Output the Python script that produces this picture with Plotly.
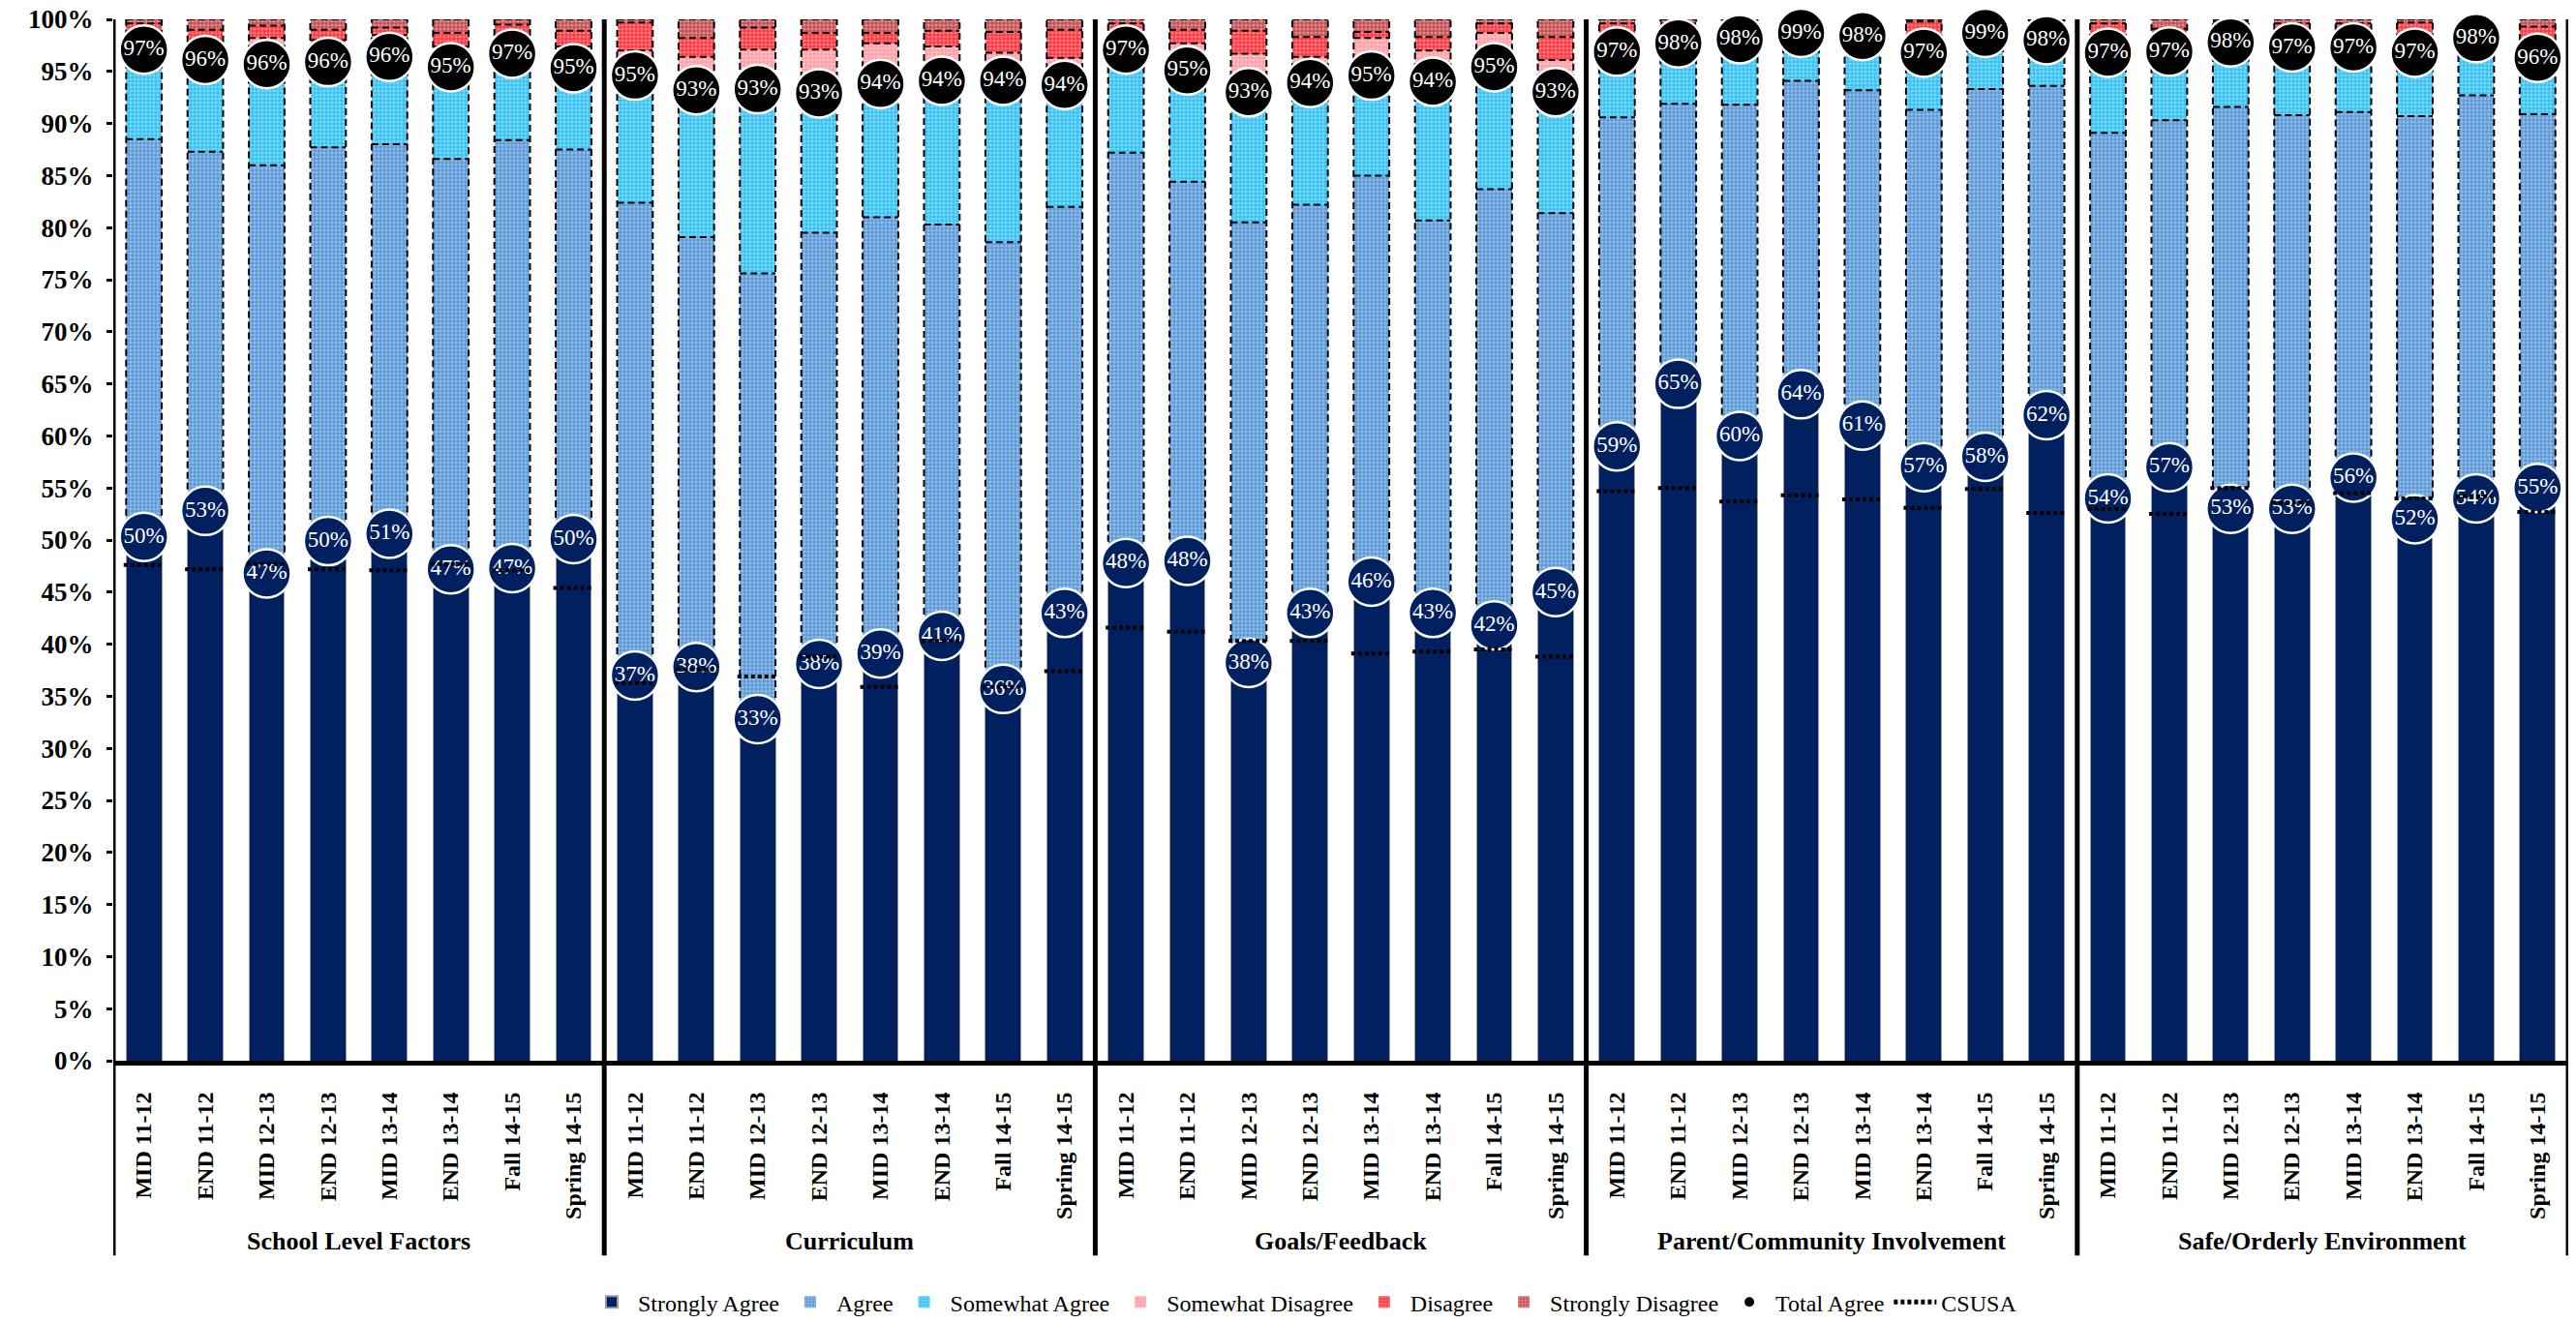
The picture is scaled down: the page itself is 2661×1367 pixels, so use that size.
import plotly.graph_objects as go

# Survey periods and survey domains
periods = ["MID 11-12", "END 11-12", "MID 12-13", "END 12-13",
           "MID 13-14", "END 13-14", "Fall 14-15", "Spring 14-15"]
domains = ["School Level Factors", "Curriculum", "Goals/Feedback",
           "Parent/Community Involvement", "Safe/Orderly Environment"]

# Response shares (%) per bar, domain by domain, period by period
strongly_agree = [50.3, 52.8, 46.8, 49.9, 50.6, 47.2, 47.3, 50.1,
                  37.0, 37.8, 32.8, 38.1, 39.1, 40.8, 35.7, 43.0,
                  47.8, 48.0, 38.2, 43.0, 46.0, 43.0, 41.8, 45.0,
                  59.0, 65.0, 60.0, 64.0, 61.0, 57.0, 58.0, 62.0,
                  54.0, 57.0, 53.0, 53.0, 56.0, 52.0, 54.0, 55.0]
agree = [38.2, 34.5, 39.2, 37.8, 37.4, 39.4, 41.1, 37.4,
         45.4, 41.3, 42.8, 41.4, 41.9, 39.5, 42.9, 39.0,
         39.4, 36.4, 42.3, 39.2, 39.0, 37.7, 41.9, 36.4,
         31.6, 26.9, 31.8, 30.1, 32.2, 34.3, 35.3, 31.6,
         35.1, 33.3, 38.6, 37.8, 35.1, 38.7, 38.7, 35.9]
somewhat_agree = [8.6, 8.8, 9.7, 8.2, 8.4, 8.8, 8.3, 7.8,
                  12.2, 14.1, 17.7, 13.4, 12.8, 13.8, 15.5, 11.7,
                  9.9, 10.7, 12.5, 11.7, 9.6, 13.3, 11.7, 11.6,
                  6.3, 5.8, 6.3, 4.6, 5.2, 5.5, 5.4, 4.4,
                  7.7, 6.6, 6.2, 6.5, 6.2, 6.1, 5.5, 5.4]
somewhat_disagree = [0.7, 1.1, 2.5, 2.1, 2.1, 2.0, 0.8, 2.1,
                     2.4, 3.2, 3.8, 4.2, 3.9, 3.3, 2.7, 2.6,
                     0.7, 2.6, 3.7, 2.5, 3.6, 3.0, 3.3, 3.1,
                     0.6, 0.5, 0.6, 0.5, 0.6, 0.6, 0.6, 0.6,
                     0.7, 0.5, 0.8, 0.7, 0.9, 0.8, 0.7, 0.9]
disagree = [1.8, 1.8, 1.2, 1.0, 0.7, 1.3, 2.0, 1.5,
            2.7, 1.8, 2.1, 1.6, 1.0, 1.5, 2.0, 2.7,
            1.8, 1.3, 2.2, 1.9, 0.6, 1.3, 0.9, 2.2,
            2.1, 1.4, 1.1, 0.7, 0.9, 2.4, 0.6, 1.2,
            2.1, 1.7, 1.2, 1.6, 1.4, 2.1, 0.9, 2.1]
strongly_disagree = [0.4, 1.0, 0.6, 1.0, 0.8, 1.3, 0.5, 1.1,
                     0.3, 1.8, 0.8, 1.3, 1.3, 1.1, 1.2, 1.0,
                     0.4, 1.0, 1.1, 1.7, 1.2, 1.7, 0.4, 1.7,
                     0.4, 0.4, 0.2, 0.1, 0.1, 0.2, 0.1, 0.2,
                     0.4, 0.9, 0.2, 0.4, 0.4, 0.3, 0.2, 0.7]
csusa = [47.6, 47.2, 47.7, 47.2, 47.1, 47.7, 47.1, 45.4,
         36.3, 37.6, 36.9, 38.8, 35.9, 40.3, 35.9, 37.4,
         41.6, 41.2, 40.3, 40.3, 39.1, 39.3, 39.5, 38.8,
         54.7, 55.0, 53.7, 54.3, 53.9, 53.1, 54.9, 52.6,
         53.0, 52.5, 55.0, 53.6, 54.5, 54.0, 54.2, 52.7]

n_per = len(periods)
n = len(strongly_agree)
xs = list(range(n))
tick_text = [periods[i % n_per] for i in range(n)]
total_agree = [strongly_agree[i] + agree[i] + somewhat_agree[i] for i in range(n)]

FONT = "Liberation Serif"
BAR_W = 0.58
NAVY = "#002060"
BUBBLE = 50

fig = go.Figure()

# Stacked response segments
segments = [
    ("Strongly Agree", strongly_agree, NAVY, None),
    ("Agree", agree, "#5b9ad9", "#ffffff"),
    ("Somewhat Agree", somewhat_agree, "#36c2f3", "#ffffff"),
    ("Somewhat Disagree", somewhat_disagree, "#ffa0a6", "#ffffff"),
    ("Disagree", disagree, "#ff3840", "#ffffff"),
    ("Strongly Disagree", strongly_disagree, "#c65052", "#ffffff"),
]
for name, vals, col, fg in segments:
    marker = dict(color=col)
    if fg is None:
        marker["line"] = dict(color="#9a9a9a", width=1)
    else:
        marker["line"] = dict(width=0)
        marker["pattern"] = dict(shape=".", fillmode="overlay", fgcolor=fg,
                                 fgopacity=0.35, size=4, solidity=0.45)
    fig.add_trace(go.Bar(x=xs, y=vals, name=name, width=BAR_W, marker=marker))

# Dashed outlines around the segments stacked above "Strongly Agree"
ox, oy = [], []
half = BAR_W / 2
for i in range(n):
    tops = [strongly_agree[i]]
    for arr in (agree, somewhat_agree, somewhat_disagree, disagree, strongly_disagree):
        tops.append(tops[-1] + arr[i])
    x0, x1 = i - half, i + half
    ox += [x0, x0, None, x1, x1, None]
    oy += [tops[0], tops[-1], None, tops[0], tops[-1], None]
    for t in tops:
        ox += [x0, x1, None]
        oy += [t, t, None]
fig.add_trace(go.Scatter(x=ox, y=oy, mode="lines", showlegend=False, hoverinfo="skip",
                         line=dict(color="black", width=2, dash="7px,4px")))

# "Strongly Agree" value bubbles
fig.add_trace(go.Scatter(
    x=xs, y=strongly_agree, mode="markers+text", showlegend=False, cliponaxis=False,
    text=[f"{round(v)}%" for v in strongly_agree], textposition="middle center",
    textfont=dict(family=FONT, size=23, color="white"),
    marker=dict(size=BUBBLE, color=NAVY, line=dict(color="white", width=2.5))))

# CSUSA comparison marks
cx, cy = [], []
for i in range(n):
    cx += [i - 0.33, i + 0.33, None]
    cy += [csusa[i], csusa[i], None]
fig.add_trace(go.Scatter(x=cx, y=cy, mode="lines", name="CSUSA", legendrank=1008,
                         line=dict(color="black", width=4, dash="4px,3px")))

# "Total Agree" bubbles
fig.add_trace(go.Scatter(
    x=xs, y=total_agree, mode="markers+text", name="Total Agree", legendrank=1007,
    cliponaxis=False,
    text=[f"{round(v)}%" for v in total_agree], textposition="middle center",
    textfont=dict(family=FONT, size=23, color="white"),
    marker=dict(size=BUBBLE, color="black", line=dict(color="white", width=2.5))))

# Domain separators running from the top of the plot down through the labels
shapes = []
for k in range(len(domains) + 1):
    xb = k * n_per - 0.5
    shapes.append(dict(type="line", xref="x", yref="paper", x0=xb, x1=xb,
                       y0=-0.187, y1=1, line=dict(color="black", width=5), layer="above"))

annotations = []
for k, d in enumerate(domains):
    annotations.append(dict(x=k * n_per + (n_per - 1) / 2, y=-0.173, xref="x", yref="paper",
                            text=d, showarrow=False, xanchor="center", yanchor="middle",
                            font=dict(family=FONT, size=26, color="black", weight="bold")))

fig.update_layout(
    width=2661, height=1367,
    barmode="stack",
    paper_bgcolor="white", plot_bgcolor="white",
    margin=dict(l=117, r=8, t=20, b=271, autoexpand=False),
    font=dict(family=FONT, color="black"),
    shapes=shapes, annotations=annotations,
    legend=dict(orientation="h", x=0.485, xanchor="center", y=-0.232, yanchor="middle",
                traceorder="normal", itemwidth=44,
                font=dict(family=FONT, size=24, color="black"), itemsizing="constant",
                bgcolor="rgba(0,0,0,0)"),
    xaxis=dict(range=[-0.5, n - 0.5], tickmode="array", tickvals=xs, ticktext=tick_text,
               tickangle=-90, ticks="", showgrid=False, zeroline=False, automargin=False,
               showline=True, linecolor="black", linewidth=5, ticklabelstandoff=18,
               tickfont=dict(family=FONT, size=24, color="black", weight="bold")),
    yaxis=dict(range=[0, 100], dtick=5, ticksuffix="%", showgrid=False, zeroline=False,
               ticks="outside", ticklen=6, tickwidth=3, tickcolor="black", automargin=False,
               showline=False, ticklabelstandoff=8,
               tickfont=dict(family=FONT, size=27, color="black", weight="bold")),
)

fig.write_html("out.html")
